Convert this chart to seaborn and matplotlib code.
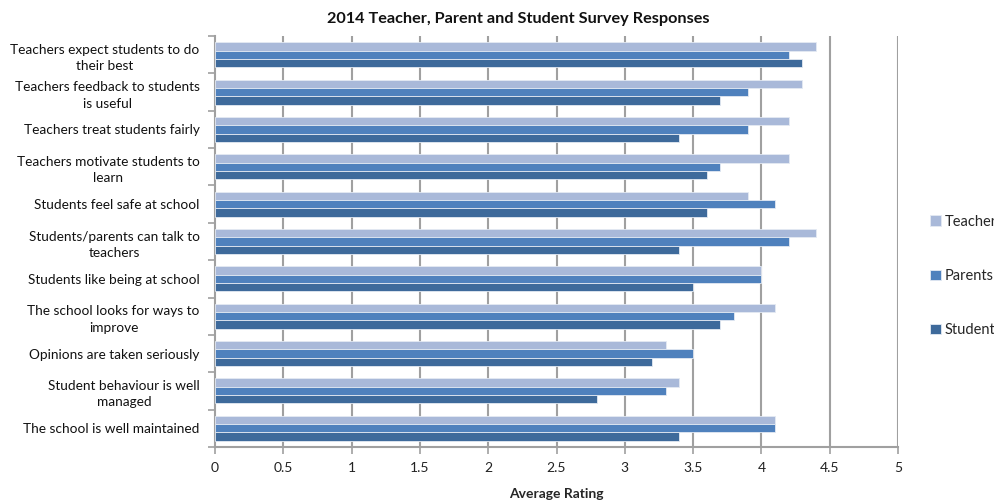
import matplotlib
matplotlib.use("Agg")
import matplotlib.pyplot as plt
import seaborn as sns
import pandas as pd
import numpy as np

categories = [
    "Teachers expect students to do\ntheir best",
    "Teachers feedback to students\nis useful",
    "Teachers treat students fairly",
    "Teachers motivate students to\nlearn",
    "Students feel safe at school",
    "Students/parents can talk to\nteachers",
    "Students like being at school",
    "The school looks for ways to\nimprove",
    "Opinions are taken seriously",
    "Student behaviour is well\nmanaged",
    "The school is well maintained",
]
teachers = [4.4, 4.3, 4.2, 4.2, 3.9, 4.4, 4.0, 4.1, 3.3, 3.4, 4.1]
parents = [4.2, 3.9, 3.9, 3.7, 4.1, 4.2, 4.0, 3.8, 3.5, 3.3, 4.1]
students = [4.3, 3.7, 3.4, 3.6, 3.6, 3.4, 3.5, 3.7, 3.2, 2.8, 3.4]
series = ["Teachers", "Parents", "Students"]
xticks = [0, 0.5, 1, 1.5, 2, 2.5, 3, 3.5, 4, 4.5, 5]

df = pd.DataFrame({
    "Question": categories * 3,
    "Group": np.repeat(series, len(categories)),
    "Rating": teachers + parents + students,
})

sns.set_theme(style="white")
plt.rcParams["font.family"] = ["Lato", "DejaVu Sans"]

fig = plt.figure(figsize=(9.94, 5.0), dpi=100)
ax = fig.add_axes([215 / 994, 1 - 447 / 500, 683 / 994, (447 - 36) / 500])

palette = {"Teachers": "#A9B9D9", "Parents": "#4F81BD", "Students": "#3E6A9B"}
sns.barplot(data=df, y="Question", x="Rating", hue="Group", hue_order=series,
            order=categories, palette=palette, orient="h", width=0.67,
            saturation=1, edgecolor="#E4EAF3", linewidth=0.6, ax=ax,
            errorbar=None, zorder=3)

grid_c = "#A0A0A0"
ax.set_xlim(0, 5)
ax.set_ylim(len(categories) - 0.5, -0.5)
ax.set_xticks(xticks)
ax.set_xticklabels([f"{t:g}" for t in xticks], fontsize=10, color="#222222")
for t in xticks[1:]:
    ax.axvline(t, color=grid_c, lw=1.5, zorder=1)

# category boundary tick marks on the value axis
ax.set_yticks(np.arange(len(categories)), minor=False)
ax.set_yticks(np.arange(len(categories) + 1) - 0.5, minor=True)
ax.set_yticklabels(categories, fontsize=9.8, color="#111111",
                   multialignment="center", linespacing=1.45)
ax.tick_params(axis="y", which="major", length=0, pad=11)
ax.tick_params(axis="y", which="minor", length=5, width=1.2, color=grid_c, direction="out", left=True)
ax.tick_params(axis="x", which="major", length=5, width=1.2, color=grid_c, direction="out", bottom=True, pad=6)

for s in ["top", "right"]:
    ax.spines[s].set_visible(False)
for s in ["left", "bottom"]:
    ax.spines[s].set_color(grid_c)
    ax.spines[s].set_linewidth(1.5)

ax.set_ylabel("")
ax.set_xlabel("Average Rating", fontsize=10, fontweight="bold", labelpad=10)

fig.text(518 / 994, 1 - 19 / 500, "2014 Teacher, Parent and Student Survey Responses",
         ha="center", va="center", fontsize=11.7, fontweight="bold", color="#111111")

leg = ax.legend(loc="center left", bbox_to_anchor=(917 / 994, 1 - 276 / 500),
                bbox_transform=fig.transFigure, frameon=False, fontsize=10.5,
                handlelength=0.75, handleheight=0.75, handletextpad=0.25,
                labelspacing=2.75)

fig.savefig("out.png", dpi=100)
